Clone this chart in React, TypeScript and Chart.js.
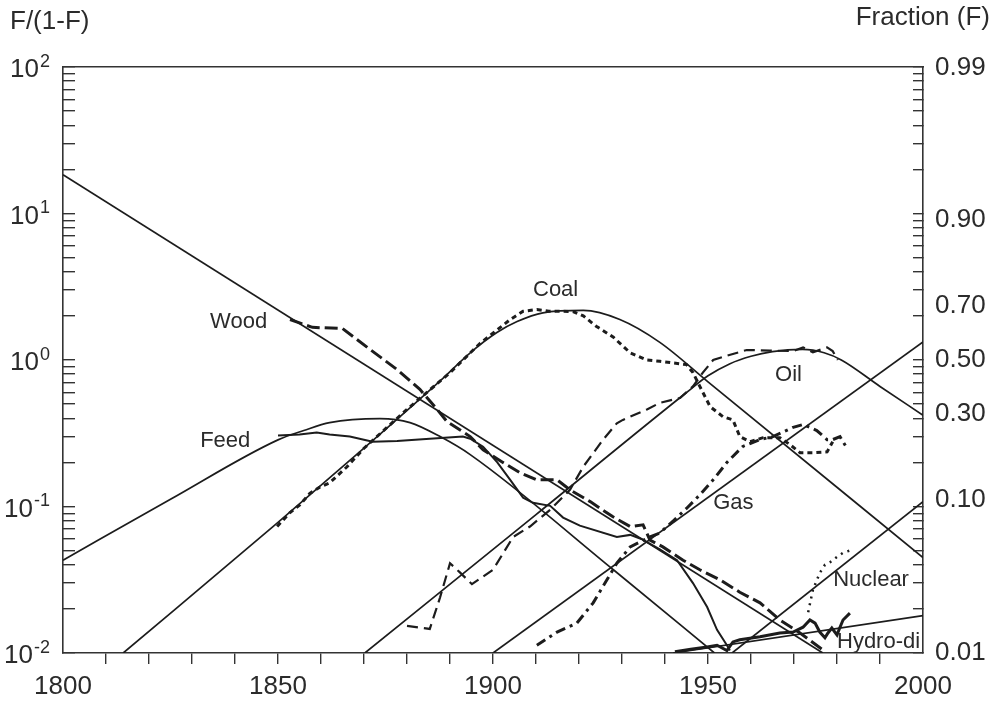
import React, { useEffect, useRef } from 'react';
import { Chart, registerables } from 'chart.js';

Chart.register(...registerables);

const FONT = '"Liberation Sans", Arial, Helvetica, sans-serif';
const INK = '#1c1c1c';
const TEXT = '#2b2b2b';
const AXIS = '#333333';

// ---- fitted substitution curves: year -> F/(1-F) ----
const woodFitYears = [1800, 1976.7];
const woodFitValues = [18.4, 0.01];
const feedFitYears = [1800, 1825, 1850, 1856, 1862, 1873.7, 1880.7, 1887.7, 1894.7, 1928, 1951.5];
const feedFitValues = [0.043, 0.112, 0.285, 0.33, 0.374, 0.398, 0.374, 0.3, 0.226, 0.037, 0.01];
const coalFitYears = [1814, 1850, 1870, 1887.7, 1894.7, 1900.9, 1905.6, 1911.6, 1921, 1929.5, 1938.8, 1950, 2000];
const coalFitValues = [0.01, 0.078, 0.25, 0.72, 1.12, 1.54, 1.83, 2.1, 2.18, 1.89, 1.32, 0.71, 0.0448];
const oilFitYears = [1870.2, 1910, 1945, 1950, 1955, 1960, 1965, 1972, 1977, 1981, 1990, 2000];
const oilFitValues = [0.01, 0.088, 0.6, 0.78, 0.94, 1.06, 1.14, 1.18, 1.12, 1.0, 0.66, 0.42];
const gasFitYears = [1900, 2000];
const gasFitValues = [0.01, 1.33];
const nuclearFitYears = [1955.6, 2000];
const nuclearFitValues = [0.01, 0.108];
const hydroFitYears = [1941.9, 2000];
const hydroFitValues = [0.01, 0.018];

// ---- observed data ----
const woodYears = [1852.8, 1858, 1865, 1871.4, 1877.7, 1883, 1887, 1889.3, 1894.7, 1897.7, 1902.3, 1906.3, 1910.2, 1914.9, 1917.9, 1922.6, 1927.9, 1931.9, 1934.9, 1936.5, 1939.5, 1944.2, 1948.1, 1952.8, 1957.4, 1962.1, 1966.7, 1971.4, 1976.7];
const woodValues = [1.89, 1.67, 1.64, 1.18, 0.86, 0.63, 0.46, 0.38, 0.3, 0.244, 0.2, 0.17, 0.152, 0.152, 0.13, 0.108, 0.085, 0.073, 0.075, 0.059, 0.053, 0.043, 0.037, 0.0316, 0.026, 0.022, 0.0168, 0.0137, 0.0105];

const coalYears = [1849.8, 1852.8, 1855, 1857.4, 1859.8, 1862, 1866, 1870, 1880, 1890, 1897, 1900.9, 1904, 1907, 1910.2, 1913, 1916.3, 1918.6, 1921, 1924, 1928, 1931.9, 1935.8, 1938.8, 1945, 1946.5, 1948.1, 1950.5, 1953.5, 1955.8, 1957.4, 1959.8, 1962.8, 1966.7, 1969.1, 1971.4, 1974.4, 1977.7, 1979];
const coalValues = [0.073, 0.091, 0.102, 0.123, 0.136, 0.145, 0.186, 0.25, 0.46, 0.82, 1.3, 1.6, 1.89, 2.15, 2.21, 2.15, 2.15, 2.14, 2.0, 1.7, 1.43, 1.12, 1.0, 0.98, 0.93, 0.82, 0.66, 0.48, 0.41, 0.39, 0.3, 0.277, 0.295, 0.295, 0.264, 0.233, 0.233, 0.236, 0.277];

const oilYears = [1880, 1885.3, 1887.7, 1890, 1892.3, 1895.1, 1900, 1904.7, 1908.6, 1913.3, 1917.9, 1921, 1925.6, 1928.8, 1930.2, 1935.8, 1938.8, 1943.5, 1946.5, 1948.8, 1951.2, 1954.4, 1959, 1964.4, 1969.8, 1972.1, 1974.4, 1977.7, 1979, 1980.2];
const oilValues = [0.0153, 0.0146, 0.024, 0.041, 0.0355, 0.0295, 0.037, 0.062, 0.073, 0.095, 0.13, 0.187, 0.286, 0.37, 0.39, 0.46, 0.51, 0.55, 0.66, 0.82, 1.0, 1.07, 1.17, 1.16, 1.15, 1.22, 1.13, 1.22, 1.15, 1.0];

const gasYears = [1910.2, 1914.9, 1919.5, 1923.3, 1926.5, 1928.8, 1931.9, 1936.5, 1938.8, 1942, 1945, 1948.1, 1951.2, 1954.4, 1958.1, 1962.1, 1965.1, 1969.8, 1972.1, 1975.3, 1977.7, 1979, 1980.7, 1982.3];
const gasValues = [0.0113, 0.0139, 0.016, 0.022, 0.0316, 0.041, 0.053, 0.062, 0.066, 0.08, 0.097, 0.12, 0.152, 0.2, 0.257, 0.286, 0.3, 0.347, 0.363, 0.33, 0.286, 0.286, 0.3, 0.25];

const feedYears = [1850, 1855, 1859, 1862, 1866.7, 1872, 1877.7, 1885.3, 1893, 1894.7, 1897.7, 1901, 1904, 1907, 1909.3, 1913.3, 1916.3, 1920.2, 1928.8, 1931.9, 1934.5, 1938.8, 1942.8, 1946.5, 1949.8, 1952.1, 1954.4, 1955.1];
const feedValues = [0.305, 0.31, 0.32, 0.31, 0.3, 0.277, 0.28, 0.29, 0.3, 0.29, 0.256, 0.2, 0.152, 0.115, 0.106, 0.101, 0.084, 0.074, 0.062, 0.064, 0.06, 0.051, 0.043, 0.03, 0.0206, 0.0144, 0.0113, 0.0104];

const nuclearYears = [1973.3, 1974.4, 1976, 1977.2, 1978.4, 1980, 1981.4, 1983];
const nuclearValues = [0.019, 0.027, 0.0352, 0.04, 0.0417, 0.0453, 0.0483, 0.05];

const hydroYears = [1942.3, 1946, 1949.8, 1952.1, 1954.4, 1955.8, 1957.4, 1962.1, 1966.7, 1969.8, 1972.1, 1973.7, 1974.9, 1976, 1977.2, 1977.9, 1978.8, 1980, 1980.7, 1981.4, 1983];
const hydroValues = [0.0102, 0.0106, 0.011, 0.0113, 0.0104, 0.0119, 0.0123, 0.0129, 0.0137, 0.0139, 0.015, 0.0168, 0.016, 0.0139, 0.0127, 0.0137, 0.0148, 0.0133, 0.015, 0.0168, 0.0187];

// ---- in-chart labels ----
const labelNames = ['Wood', 'Feed', 'Coal', 'Oil', 'Gas', 'Nuclear', 'Hydro-di'];
const labelYears = [1834.2, 1831.9, 1909.3, 1965.6, 1951.2, 1979.1, 1980];
const labelValues = [1.83, 0.282, 2.99, 0.794, 0.106, 0.0316, 0.0119];

// ---- axes ----
const leftTitle = 'F/(1-F)';
const rightTitle = 'Fraction (F)';
const decadeExponents = [-2, -1, 0, 1, 2];
const decadeBase = '10';
const decadeExpLabels = ['-2', '-1', '0', '1', '2'];
const minorMultipliers = [1, 2, 3, 4, 5, 6, 7, 8, 9];
const fractionTicks = [0.99, 0.9, 0.7, 0.5, 0.3, 0.1, 0.01];
const fractionLabels = ['0.99', '0.90', '0.70', '0.50', '0.30', '0.10', '0.01'];
const xLabelYears = [1800, 1850, 1900, 1950, 2000];
const xMin = 1800;
const xMax = 2000;

type T = { value: number; lbl: string; frac?: boolean };

function logTicks(): T[] {
  const out: T[] = [];
  decadeExponents.forEach((e, i) => {
    const base = Math.pow(10, e);
    if (i === decadeExponents.length - 1) {
      out.push({ value: base, lbl: '' });
      return;
    }
    minorMultipliers.forEach((m) => out.push({ value: Number((m * base).toPrecision(6)), lbl: '' }));
  });
  return out;
}

const pts = (xs: number[], ys: number[]) => xs.map((x, i) => ({ x, y: ys[i] }));

const textPlugin = {
  id: 'textPlugin',
  afterDraw(chart: any) {
    const { ctx, scales } = chart;
    const x = scales.x;
    const y = scales.y;
    ctx.save();
    ctx.fillStyle = TEXT;
    ctx.textBaseline = 'middle';
    // in-plot labels
    ctx.font = `22px ${FONT}`;
    ctx.textAlign = 'left';
    labelNames.forEach((n, i) => {
      ctx.fillText(n, x.getPixelForValue(labelYears[i]), y.getPixelForValue(labelValues[i]));
    });
    // left axis power-of-ten labels with superscripts
    const right = chart.chartArea.left - 13;
    decadeExponents.forEach((e, i) => {
      const py = y.getPixelForValue(Math.pow(10, e));
      ctx.font = `18px ${FONT}`;
      ctx.textAlign = 'right';
      const ew = ctx.measureText(decadeExpLabels[i]).width;
      ctx.fillText(decadeExpLabels[i], right, py - 5);
      ctx.font = `26px ${FONT}`;
      ctx.fillText(decadeBase, right - ew - 1, py + 3);
    });
    // axis titles
    ctx.font = `26px ${FONT}`;
    ctx.textAlign = 'left';
    ctx.fillText(leftTitle, 10, chart.chartArea.top - 45);
    ctx.textAlign = 'right';
    ctx.fillText(rightTitle, chart.width - 4, chart.chartArea.top - 49);
    ctx.restore();
  },
};

export default function App() {
  const ref = useRef<HTMLCanvasElement | null>(null);
  useEffect(() => {
    if (!ref.current) return;
    const fit = { borderColor: INK, borderWidth: 1.7, pointRadius: 0, fill: false, tension: 0 };
    const smooth = { ...fit, cubicInterpolationMode: 'monotone' as const };
    const chart = new Chart(ref.current, {
      type: 'line',
      data: {
        datasets: [
          { label: 'Wood fit', data: pts(woodFitYears, woodFitValues), ...fit },
          { label: 'Feed fit', data: pts(feedFitYears, feedFitValues), ...smooth },
          { label: 'Coal fit', data: pts(coalFitYears, coalFitValues), ...smooth },
          { label: 'Oil fit', data: pts(oilFitYears, oilFitValues), ...smooth },
          { label: 'Gas fit', data: pts(gasFitYears, gasFitValues), ...fit },
          { label: 'Nuclear fit', data: pts(nuclearFitYears, nuclearFitValues), ...fit },
          { label: 'Hydro fit', data: pts(hydroFitYears, hydroFitValues), ...fit },
          { label: 'Wood', data: pts(woodYears, woodValues), borderColor: INK, borderWidth: 3, borderDash: [13, 5], pointRadius: 0, tension: 0 },
          { label: 'Coal', data: pts(coalYears, coalValues), borderColor: INK, borderWidth: 3, borderDash: [5, 4], pointRadius: 0, tension: 0 },
          { label: 'Oil', data: pts(oilYears, oilValues), borderColor: INK, borderWidth: 2.2, borderDash: [11, 6], pointRadius: 0, tension: 0 },
          { label: 'Gas', data: pts(gasYears, gasValues), borderColor: INK, borderWidth: 3, borderDash: [10, 5, 3, 5], pointRadius: 0, tension: 0 },
          { label: 'Feed', data: pts(feedYears, feedValues), borderColor: INK, borderWidth: 2, pointRadius: 0, tension: 0 },
          { label: 'Nuclear', data: pts(nuclearYears, nuclearValues), borderColor: INK, borderWidth: 2.5, borderDash: [2, 5], pointRadius: 0, tension: 0 },
          { label: 'Hydro', data: pts(hydroYears, hydroValues), borderColor: INK, borderWidth: 3, pointRadius: 0, tension: 0 },
        ],
      },
      options: {
        responsive: false,
        animation: false,
        devicePixelRatio: 1,
        events: [],
        layout: { padding: { top: 67, left: 0, right: 0, bottom: 0 } },
        plugins: { legend: { display: false }, tooltip: { enabled: false } },
        scales: {
          x: {
            type: 'linear',
            position: 'bottom',
            min: xMin,
            max: xMax,
            afterFit: (s: any) => { s.height = 52; },
            grid: {
              drawOnChartArea: false,
              drawTicks: true,
              tickLength: 11,
              lineWidth: 1.4,
              color: AXIS,
              tickColor: (c: any) => (c.tick && (c.tick.value === xMin || c.tick.value === xMax) ? 'rgba(0,0,0,0)' : AXIS),
            },
            border: { display: true, color: AXIS, width: 1.6 },
            ticks: {
              stepSize: 10,
              autoSkip: false,
              maxRotation: 0,
              padding: 7,
              color: TEXT,
              font: { family: FONT, size: 26 },
              callback: (v: any) => (xLabelYears.includes(Number(v)) ? String(v) : ''),
            },
          },
          xTop: {
            type: 'linear',
            position: 'top',
            min: xMin,
            max: xMax,
            afterFit: (s: any) => { s.height = 0; },
            grid: { display: false },
            ticks: { display: false },
            border: { display: true, color: AXIS, width: 1.6 },
          },
          y: {
            type: 'logarithmic',
            position: 'left',
            min: 0.01,
            max: 100,
            afterBuildTicks: (s: any) => { s.ticks = logTicks(); },
            afterFit: (s: any) => { s.width = 63; },
            grid: { drawOnChartArea: false, drawTicks: true, tickLength: -12, lineWidth: 1.4, color: AXIS },
            border: { display: true, color: AXIS, width: 1.6 },
            ticks: {
              autoSkip: false,
              padding: 25,
              color: TEXT,
              font: { family: FONT, size: 26 },
              callback: () => '',
            },
          },
          yRight: {
            type: 'logarithmic',
            position: 'right',
            min: 0.01,
            max: 100,
            afterBuildTicks: (s: any) => {
              const minor: T[] = logTicks();
              const fr: T[] = fractionTicks.map((f, i) => ({ value: f / (1 - f), lbl: fractionLabels[i], frac: true }));
              s.ticks = [...minor, ...fr];
            },
            afterFit: (s: any) => { s.width = 71; },
            grid: {
              drawOnChartArea: false,
              drawTicks: true,
              tickLength: -10,
              lineWidth: 1.4,
              color: AXIS,
              tickColor: (c: any) => (c.tick && c.tick.frac ? 'rgba(0,0,0,0)' : AXIS),
            },
            border: { display: true, color: AXIS, width: 1.6 },
            ticks: {
              autoSkip: false,
              padding: 22,
              color: TEXT,
              font: { family: FONT, size: 26 },
              callback: (_v: any, i: number, ticks: any[]) => ticks[i].lbl || '',
            },
          },
        },
      } as any,
      plugins: [textPlugin],
    });
    return () => chart.destroy();
  }, []);
  return (
    <div style={{ position: 'fixed', left: 0, top: 0, width: 994, height: 705, background: '#fff' }}>
      <canvas ref={ref} width={994} height={705} style={{ display: 'block' }} />
    </div>
  );
}
